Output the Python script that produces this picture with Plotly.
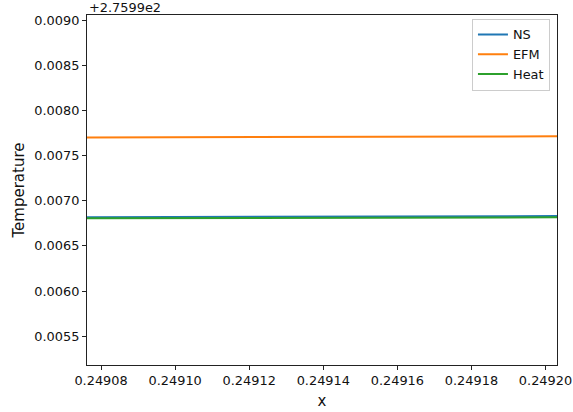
import plotly.graph_objects as go

# Temperature profile along x near x = 0.2491 (values in K)
x = [0.2490762, 0.2491397, 0.2492031]
offset = 275.99
ns = [275.996818, 275.996825, 275.996832]
efm = [275.997703, 275.997710, 275.997717]
heat = [275.996807, 275.996812, 275.996818]

y_ticks = [0.0055, 0.0060, 0.0065, 0.0070, 0.0075, 0.0080, 0.0085, 0.0090]
x_ticks = [0.24908, 0.24910, 0.24912, 0.24914, 0.24916, 0.24918, 0.24920]

series = [("NS", ns, "#1f77b4"), ("EFM", efm, "#ff7f0e"), ("Heat", heat, "#2ca02c")]

fig = go.Figure()
for name, vals, color in series:
    fig.add_trace(go.Scatter(x=x, y=vals, mode="lines", name=name,
                             line=dict(color=color, width=2)))

font = "DejaVu Sans, sans-serif"
axis_common = dict(showline=True, mirror=True, linecolor="#222", linewidth=1,
                   ticks="outside", ticklen=4, tickcolor="#222", showgrid=False,
                   zeroline=False, automargin=False,
                   tickfont=dict(family=font, size=12.9, color="#111"))

fig.update_layout(
    width=573, height=412,
    margin=dict(l=87, r=16, t=15, b=47),
    plot_bgcolor="white", paper_bgcolor="white",
    xaxis=dict(range=[0.2490762, 0.2492031], tickvals=x_ticks,
               ticktext=[f"{v:.5f}" for v in x_ticks],
               title=dict(text="x", font=dict(family=font, size=15, color="#111"),
                          standoff=8),
               **axis_common),
    yaxis=dict(range=[offset + 0.005179, offset + 0.009063],
               tickvals=[offset + v for v in y_ticks],
               ticktext=[f"{v:.4f}" for v in y_ticks],
               title=dict(text="Temperature", font=dict(family=font, size=15, color="#111"),
                          standoff=6),
               **axis_common),
    legend=dict(x=0.985, y=0.99, xanchor="right", yanchor="top",
                bgcolor="rgba(255,255,255,0.8)", bordercolor="#cccccc", borderwidth=1,
                font=dict(family=font, size=12.9, color="#111"),
                itemwidth=30, tracegroupgap=0),
    showlegend=True,
)

fig.add_annotation(text="+2.7599e2", xref="paper", yref="paper", x=0, y=1,
                   xanchor="left", yanchor="bottom", showarrow=False, yshift=-2,
                   font=dict(family=font, size=12.9, color="#111"))

fig.write_html("out.html")
